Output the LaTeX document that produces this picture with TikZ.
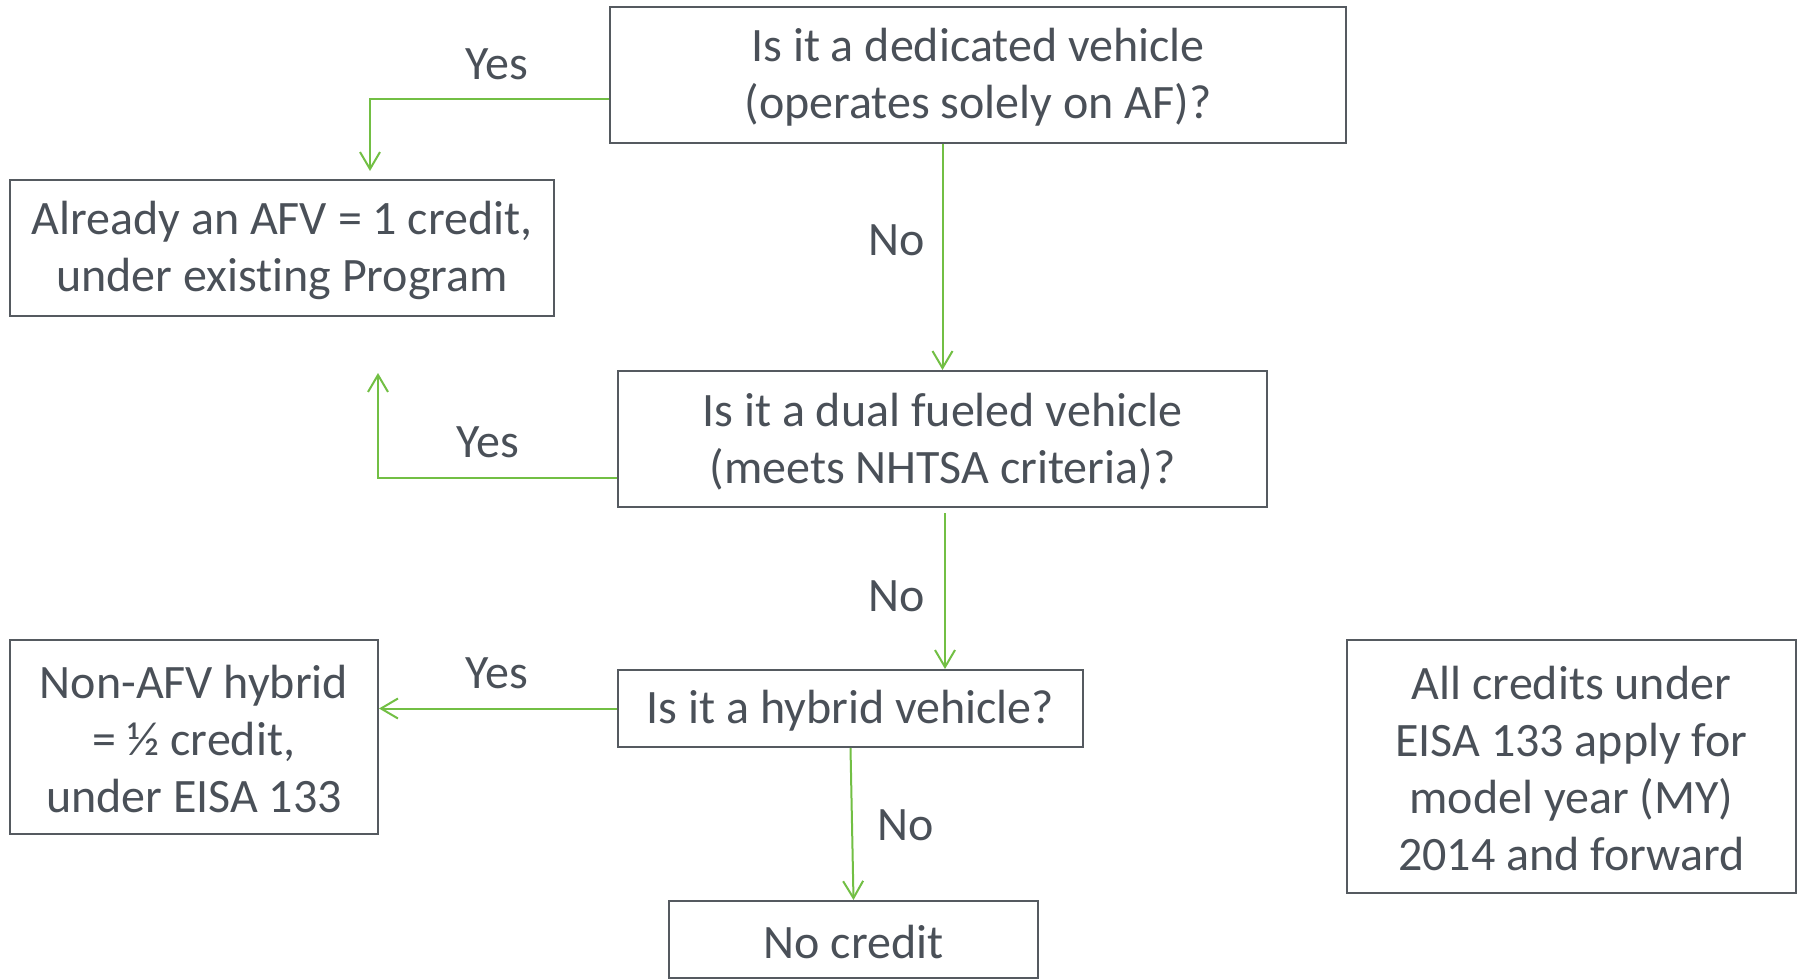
\documentclass[tikz,border=0pt]{standalone}
\usepackage{fontspec}
\setmainfont{Carlito}[Ligatures=NoCommon]
\usetikzlibrary{arrows.meta,calc}
\definecolor{txt}{HTML}{4A5058}
\definecolor{bord}{HTML}{555A60}
\definecolor{grn}{HTML}{72BF44}
\begin{document}
\begin{tikzpicture}[x=0.5pt,y=-0.5pt,
  box/.style={draw=bord, line width=1pt, inner sep=0pt},
  boxtext/.style={text=txt, align=center, inner sep=0pt, yshift=-1.2pt,
    font=\fontsize{24}{28.5}\selectfont},
  lbl/.style={text=txt, inner sep=0pt, font=\fontsize{24}{28.5}\selectfont},
  arr/.style={draw=grn, line width=1pt, -{Straight Barb[length=8.5pt,width=10pt]}}]
\useasboundingbox (0,0) rectangle (1798,979);
\node[box, minimum width=368pt, minimum height=68pt,
  label={[boxtext]center:{Is it a dedicated vehicle\\(operates solely on AF)?}}] (top) at (978,75) {};
\node[box, minimum width=272pt, minimum height=68pt,
  label={[boxtext]center:{Already an AFV = 1 credit,\\under existing Program}}] (afv) at (282,248) {};
\node[box, minimum width=324.5pt, minimum height=68pt,
  label={[boxtext]center:{Is it a dual fueled vehicle\\(meets NHTSA criteria)?}}] (dual) at (942.5,439) {};
\node[box, minimum width=232.5pt, minimum height=38.5pt,
  label={[boxtext]center:{Is it a hybrid vehicle?}}] (hyb) at (850.5,708.5) {};
\node[box, minimum width=184pt, minimum height=97pt,
  label={[boxtext]center:{Non-AFV hybrid\\= ½ credit,\\under EISA 133}}] (non) at (194,737) {};
\node[box, minimum width=184.5pt, minimum height=38.5pt,
  label={[boxtext]center:{No credit}}] (noc) at (853.5,939.5) {};
\node[box, minimum width=224.5pt, minimum height=126.5pt,
  label={[boxtext]center:{All credits under\\EISA 133 apply for\\model year (MY)\\2014 and forward}}] (note) at (1571.5,766.5) {};
% connectors
\coordinate (y2end) at (378,373);
\draw[arr, shorten >=4pt] ($(top.west)+(0,24.5)$) -| ($(afv.north)+(88,0)$);
\draw[arr] (dual.north |- top.south) -- (dual.north);
\draw[arr] ($(dual.west)+(0,39)$) -| (y2end);
\draw[arr] ($(dual.south)+(2.5,5)$) -- ($(hyb.north -| dual.south)+(2.5,0)$);
\draw[arr] (hyb.west) -- (non.east |- hyb.west);
\draw[arr] (hyb.south) -- (noc.north);
% labels
\node[lbl] (l1) at (497,64.5) {Yes};
\node[lbl] (l2) at (897,240.5) {No};
\node[lbl] (l3) at (488,442.5) {Yes};
\node[lbl] (l4) at (897,596.5) {No};
\node[lbl] (l5) at (497,673.5) {Yes};
\node[lbl] (l6) at (906,825.5) {No};
\end{tikzpicture}
\end{document}
